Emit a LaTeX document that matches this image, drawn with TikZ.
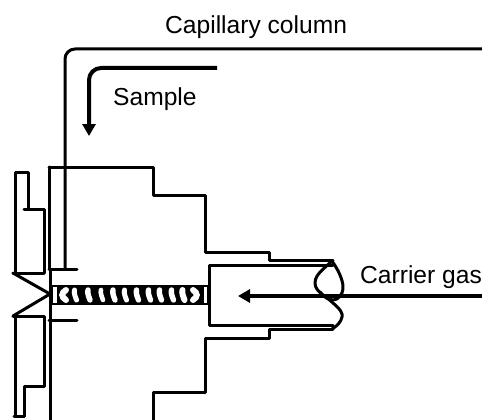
\documentclass[tikz,border=0pt]{standalone}
\usepackage{fontspec}
\setmainfont{Liberation Sans}
\usetikzlibrary{arrows.meta}
\tikzset{
  wall/.style={line width=3pt,black,line cap=round,line join=round},
  flow/.style={line width=4pt,black},
  lab/.style={font=\fontsize{24.6}{28}\selectfont,inner sep=0pt,anchor=base west}
}
\begin{document}
\begin{tikzpicture}[x=1pt,y=-1pt]
\useasboundingbox (0,0) rectangle (482,420);
% labels
\node[lab] (cap) at (165,34) {Capillary column};
\node[lab] (smp) at (113,106) {Sample};
\node[lab] (car) at (360,283) {Carrier gas};
% capillary
\draw[wall,rounded corners=10pt,line cap=butt] (482,49) -- (65,49) -- (65,269);
% sample arrow
\draw[flow,rounded corners=12pt,-{Triangle[length=12pt,width=13pt]}] (217,68) -- (89,68) -- (89,136);
% body
\draw[wall] (49,167) -- (153,167) -- (153,195) -- (205,195) -- (205,252) -- (269,252) -- (269,260.5) -- (333,260.5);
\draw[wall] (333,329.5) -- (269,329.5) -- (269,338) -- (205,338) -- (205,392) -- (153,392) -- (153,420);
\draw[wall] (49,167) -- (49,269);
\draw[wall,line cap=butt] (50,269) -- (50,420);
\draw[wall] (49,269) -- (77,269);
\draw[wall] (49,320) -- (77,320);
% septum nut
\draw[wall] (44,273) -- (44,209) -- (24,209);
\draw[wall] (44,273) -- (13,273);
\draw[wall] (28,209) -- (28,172) -- (15,172) -- (15,273);
\draw[wall] (13,316) -- (44,316) -- (44,386) -- (24,386) -- (24,416) -- (14,416);
\draw[wall] (15,316) -- (15,416);
\draw[wall] (13,273) -- (50,294) -- (13,316);
% inner tube
\draw[wall] (333,265.5) -- (209,265.5) -- (209,325) -- (333,325);
% heater
\fill[black] (51,285) rectangle (209,305);
\fill[white] (52.5,287) rectangle (56.5,303);
\fill[white] (204,287) rectangle (207.3,303);
\draw[white,line width=6pt,line cap=round] (66,290) .. controls (61,293) and (61,297) .. (66,300);
\foreach \c/\w in {75.5/5,89/5.4,102/4.6,114/5.4,125.5/5,137.5/5.4,149.5/5.4,160.5/5.4,172.5/5.4,183.5/6}{
  \draw[white,line width=\w pt,line cap=round] (\c-1,290) .. controls (\c-2,293) and (\c,297) .. (\c+1,300);
}
\draw[white,line width=6pt,line cap=round] (193,290) .. controls (198,293) and (198,297) .. (193,300);
% break
\draw[wall] (332,261) .. controls (325,268) and (315,274) .. (315,283)
  .. controls (315,292) and (326,296) .. (333,303)
  .. controls (340,309) and (343,313) .. (342,317)
  .. controls (341,322) and (337,326) .. (332,329);
\draw[wall] (332,261) .. controls (337,268) and (343,279) .. (343,287)
  .. controls (343,295) and (338,300) .. (333,300)
  .. controls (328,300) and (323,296) .. (320,292);
% carrier arrow
\draw[flow,-{Triangle[length=12pt,width=13pt]}] (482,296) -- (238,296);
\end{tikzpicture}
\end{document}
